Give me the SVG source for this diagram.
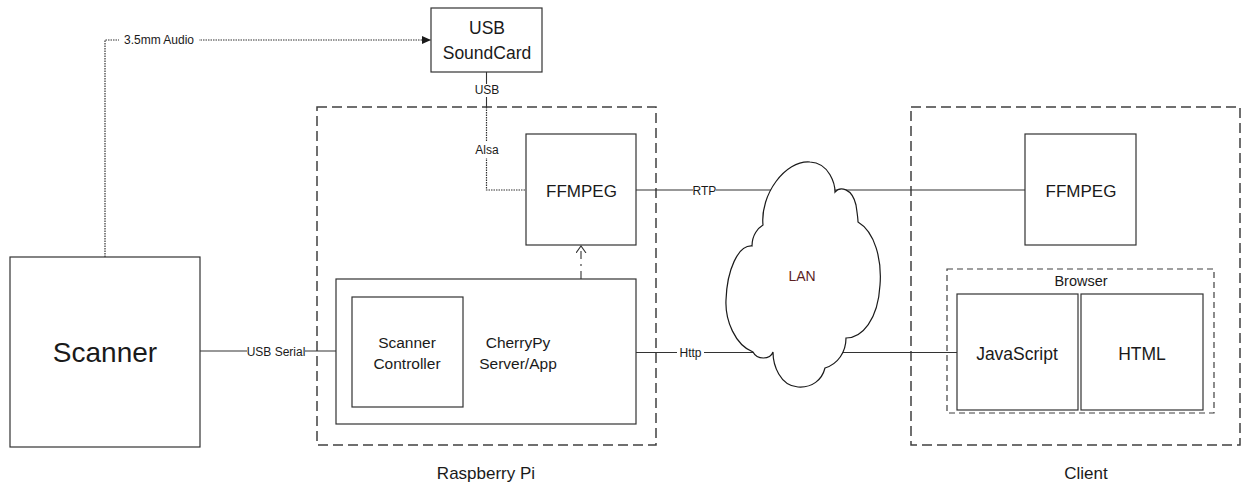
<svg xmlns="http://www.w3.org/2000/svg" width="1248" height="485" viewBox="0 0 1248 485">
<style>
  .box{fill:#fff;stroke:#333;stroke-width:1.2}
  .grp{fill:none;stroke:#404040;stroke-width:1.5;stroke-dasharray:10,5}
  .grp2{fill:none;stroke:#404040;stroke-width:1.2;stroke-dasharray:6,4}
  .ln{fill:none;stroke:#333;stroke-width:1.1}
  .dot{fill:none;stroke:#333;stroke-width:1.2;stroke-dasharray:1.5,1}
  .dd{fill:none;stroke:#333;stroke-width:1.1;stroke-dasharray:8,5,2,5}
  text{font-family:"Liberation Sans",Arial,sans-serif;fill:#1a1a1a;text-anchor:middle}
  .lbl{font-size:12px}
  .bg{fill:#fff}
</style>
<defs>
  <marker id="fill" markerWidth="10" markerHeight="10" refX="9" refY="4" orient="auto" markerUnits="userSpaceOnUse">
    <path d="M0,0 L9,4 L0,8 Z" fill="#1a1a1a"/>
  </marker>
  <marker id="open" markerWidth="12" markerHeight="12" refX="7" refY="5" orient="auto" markerUnits="userSpaceOnUse">
    <path d="M0,0 L7,5 L0,10" fill="none" stroke="#333" stroke-width="1.1"/>
  </marker>
</defs>

<g id="group-raspberry-pi">
  <rect class="grp" x="317" y="107" width="339" height="338"/>
  <text x="486" y="479" font-size="17">Raspberry Pi</text>
</g>
<g id="group-client">
  <rect class="grp" x="911" y="107" width="329" height="338"/>
  <text x="1086" y="479" font-size="17">Client</text>
</g>

<g id="connectors">
  <path class="dot" d="M105,257 V40 H431" marker-end="url(#fill)"/>
  <path class="ln" d="M486.5,72 V107"/>
  <path class="dot" d="M486.5,107 V190 H526"/>
  <path class="ln" d="M200,351 H352"/>
  <path class="ln" d="M636,190 H1025"/>
  <path class="ln" d="M636,352.5 H957"/>
  <path class="dd" d="M581,279 V246" marker-end="url(#open)"/>
  <rect class="bg" x="119" y="32" width="80" height="15"/>
  <text class="lbl" x="159" y="44" font-size="12.5">3.5mm Audio</text>
  <rect class="bg" x="476" y="84" width="22" height="13"/>
  <text class="lbl" x="487" y="94">USB</text>
  <rect class="bg" x="475" y="142" width="24" height="16"/>
  <text class="lbl" x="487" y="154">Alsa</text>
  <rect class="bg" x="247" y="344" width="58" height="14"/>
  <text class="lbl" x="276" y="356">USB Serial</text>
  <rect class="bg" x="693" y="184" width="23" height="13"/>
  <text class="lbl" x="704.5" y="195">RTP</text>
  <rect class="bg" x="677" y="346" width="27" height="14"/>
  <text class="lbl" x="690.5" y="357">Http</text>
</g>

<g id="node-scanner">
  <rect class="box" x="10" y="257" width="190" height="190"/>
  <text x="105" y="362" font-size="28">Scanner</text>
</g>
<g id="node-usb-soundcard">
  <rect class="box" x="431" y="8" width="111" height="64"/>
  <text x="487" y="34" font-size="17.5">USB</text>
  <text x="487" y="59" font-size="17.5">SoundCard</text>
</g>
<g id="node-ffmpeg-pi">
  <rect class="box" x="526" y="134" width="110" height="111"/>
  <text x="581.5" y="197" font-size="17">FFMPEG</text>
</g>
<g id="node-cherrypy">
  <rect class="box" x="336" y="279" width="300" height="145"/>
  <text x="518" y="348" font-size="15.5">CherryPy</text>
  <text x="518" y="369" font-size="15.5">Server/App</text>
</g>
<g id="node-scanner-controller">
  <rect class="box" x="352" y="297" width="111" height="110"/>
  <text x="407" y="348" font-size="15.5">Scanner</text>
  <text x="407" y="369" font-size="15.5">Controller</text>
</g>
<g id="node-lan">
  <path fill="#fff" stroke="#1a1a1a" stroke-width="1.2" d="M763,225 C760,195 785,160 810,162 C830,163 835,185 835,192 C840,186 852,188 856,205 C857,212 858,218 858,222 C875,232 882,260 880,285 C878,320 862,338 846,338 C846,352 838,364 825,368 C822,380 812,388 798,387 C780,386 773,365 773,352 C770,360 757,360 753,352 C735,345 725,320 726,300 C727,270 738,245 752,246 C752,235 758,228 763,225 Z"/>
  <text x="802" y="281" font-size="14" style="fill:#5c1f1f">LAN</text>
</g>
<g id="node-ffmpeg-client">
  <rect class="box" x="1025" y="134" width="111" height="111"/>
  <text x="1081" y="197" font-size="17">FFMPEG</text>
</g>
<g id="group-browser">
  <rect class="grp2" x="947" y="269" width="267" height="144"/>
  <text x="1081" y="286" font-size="14.5">Browser</text>
</g>
<g id="node-javascript">
  <rect class="box" x="957" y="294" width="121" height="116"/>
  <text x="1017" y="360" font-size="17.5">JavaScript</text>
</g>
<g id="node-html">
  <rect class="box" x="1081" y="294" width="122" height="116"/>
  <text x="1142" y="360" font-size="17.5">HTML</text>
</g>
</svg>
